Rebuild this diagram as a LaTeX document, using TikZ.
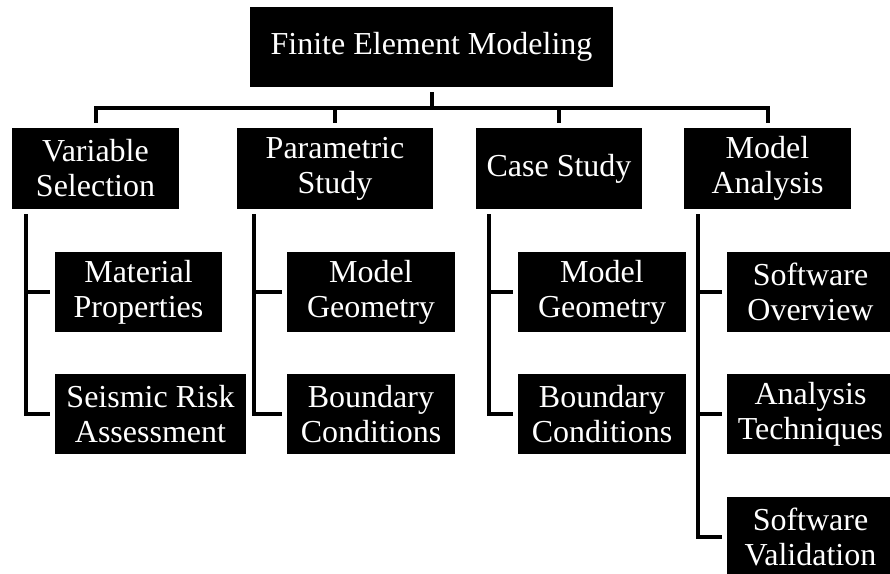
\documentclass[tikz,border=0pt]{standalone}
\usepackage{fontspec}
\setmainfont{Liberation Serif}
\begin{document}
\begin{tikzpicture}[x=1pt,y=-1pt,
  box/.style={fill=black,text=white,align=center,inner sep=0pt,outer sep=5pt,
    minimum height=80pt,font=\fontsize{32}{35}\selectfont},
  conn/.style={line width=4pt,draw=black}]
\useasboundingbox (0,0) rectangle (890,573);
\clip (0,0) rectangle (890,573);
% top
\node[box,minimum width=363pt] (top) at (431.5,47) {Finite Element Modeling};
% level 2
\node[box,minimum width=167pt,minimum height=81pt] (vs) at (95.5,168.5) {Variable\\Selection};
\node[box,minimum width=196pt,minimum height=81pt] (ps) at (335,168.5) {Parametric\\Study};
\node[box,minimum width=166pt,minimum height=81pt] (cs) at (559,168.5) {Case Study};
\node[box,minimum width=167pt,minimum height=81pt] (ma) at (767.5,168.5) {Model\\Analysis};
% children col1
\node[box,minimum width=167pt] (mp) at (138.5,292) {Material\\Properties};
\node[box,minimum width=191pt] (sr) at (150.5,414) {Seismic Risk\\Assessment};
% col2
\node[box,minimum width=168pt] (mg1) at (371,292) {Model\\Geometry};
\node[box,minimum width=168pt] (bc1) at (371,414) {Boundary\\Conditions};
% col3
\node[box,minimum width=168pt] (mg2) at (602,292) {Model\\Geometry};
\node[box,minimum width=168pt] (bc2) at (602,414) {Boundary\\Conditions};
% col4
\node[box,minimum width=167pt] (so) at (810.5,292) {Software\\Overview};
\node[box,minimum width=167pt] (at) at (810.5,414) {Analysis\\Techniques};
\node[box,minimum width=167pt] (sv) at (810.5,537) {Software\\Validation};
% bus
\coordinate (bus) at (0,108);
\draw[conn] (top.south) -- (top.south |- bus);
\draw[conn] (vs.north) -- (vs.north |- bus) -- (ma.north |- bus) -- (ma.north);
\draw[conn] (ps.north |- bus) -- (ps.north);
\draw[conn] (cs.north |- bus) -- (cs.north);
% spines
\coordinate (s1) at (26,0);
\coordinate (s2) at (254,0);
\coordinate (s3) at (489,0);
\coordinate (s4) at (698,0);
\draw[conn] (s1 |- vs.south) -- (s1 |- sr.west) -- (sr.west);
\draw[conn] (s1 |- mp.west) -- (mp.west);
\draw[conn] (s2 |- ps.south) -- (s2 |- bc1.west) -- (bc1.west);
\draw[conn] (s2 |- mg1.west) -- (mg1.west);
\draw[conn] (s3 |- cs.south) -- (s3 |- bc2.west) -- (bc2.west);
\draw[conn] (s3 |- mg2.west) -- (mg2.west);
\draw[conn] (s4 |- ma.south) -- (s4 |- sv.west) -- (sv.west);
\draw[conn] (s4 |- so.west) -- (so.west);
\draw[conn] (s4 |- at.west) -- (at.west);
\end{tikzpicture}
\end{document}
